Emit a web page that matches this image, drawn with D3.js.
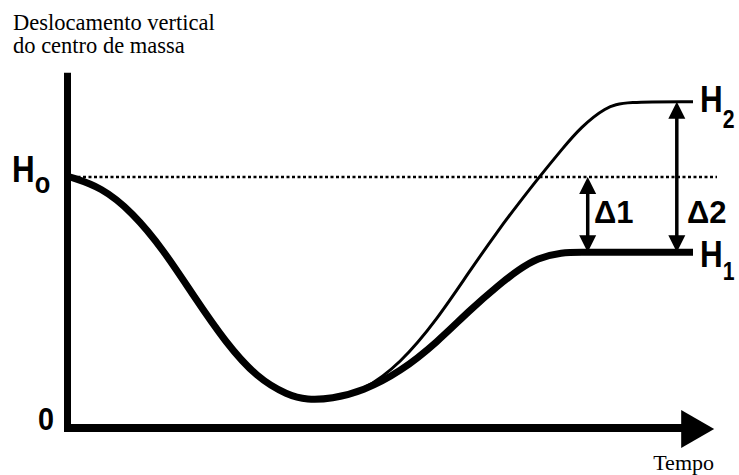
<!DOCTYPE html>
<html><head><meta charset="utf-8">
<script src="https://cdn.jsdelivr.net/npm/d3@7"></script>
<style>html,body{margin:0;padding:0;background:#fff;}svg{display:block;}</style>
</head><body>
<script>
// ---- data ----
const time      = [0, 5, 10, 15, 20, 25, 30, 35, 38, 42, 47, 53, 59, 64, 69, 72, 75, 79, 82, 86, 89, 100];
const thickVals = [100, 96, 86, 71, 52, 34, 20, 13, 11.2, 11.6, 14.7, 22.3, 34.3, 46.6, 57.4, 63, 67.7, 70, 70, 70, 70, 70];
const thinVals  = [100, 96, 86, 71, 52, 34, 20, 13, 11.2, 11.6, 14.7, 25.5, 43.5, 62, 79.7, 89.4, 99, 111.2, 119.9, 127.9, 130, 130];
const H0 = 100, H1 = 70, H2 = 130;
const delta1Time = 83.1, delta2Time = 97.4;
const yAxisMax = 141.5, xAxisMax = 103.4;
const titleLines = ["Deslocamento vertical", "do centro de massa"];
const xLabel = "Tempo";

const W = 739, H = 475;
const svg = d3.select("body").append("svg").attr("width", W).attr("height", H);
const x = d3.scaleLinear().domain([0, 100]).range([70, 693]);
const y = d3.scaleLinear().domain([0, 100]).range([428, 177]);

// title
svg.append("text").attr("font-family", "Liberation Serif, Times New Roman, serif").attr("font-size", 22.5)
  .selectAll("tspan").data(titleLines).join("tspan")
  .attr("x", 13).attr("y", (d, i) => 30 + i * 23).text(d => d);

// dotted H0 line
svg.append("line").attr("x1", x(0) + 2).attr("x2", 717).attr("y1", y(H0)).attr("y2", y(H0))
  .attr("stroke", "#000").attr("stroke-width", 2.5).attr("stroke-dasharray", "3,2.5");

const line = d3.line().x(d => x(d[0])).y(d => y(d[1])).curve(d3.curveBasis);
svg.append("path").attr("d", line(time.map((t, i) => [t, thinVals[i]])))
  .attr("fill", "none").attr("stroke", "#000").attr("stroke-width", 3);
svg.append("path").attr("d", line(time.map((t, i) => [t, thickVals[i]])))
  .attr("fill", "none").attr("stroke", "#000").attr("stroke-width", 7);

// axes
const ax = x(0) - 2.5;
svg.append("line").attr("x1", ax).attr("x2", ax).attr("y1", y(yAxisMax)).attr("y2", y(0) + 4)
  .attr("stroke", "#000").attr("stroke-width", 7);
svg.append("line").attr("x1", ax - 3.5).attr("x2", x(xAxisMax) - 30).attr("y1", y(0)).attr("y2", y(0))
  .attr("stroke", "#000").attr("stroke-width", 8);
const tipX = x(xAxisMax);
svg.append("path").attr("d", `M${tipX},${y(0) + 1}L${tipX - 33},${y(0) - 18}L${tipX - 33},${y(0) + 20}Z`).attr("fill", "#000");

svg.append("text").attr("x", 714).attr("y", 470).attr("text-anchor", "end")
  .attr("font-family", "Liberation Serif, Times New Roman, serif").attr("font-size", 22).text(xLabel);

// double arrows
function dblArrow(t, v1, v2) {
  const xx = x(t), ya = y(v1), yb = y(v2);
  const g = svg.append("g");
  g.append("line").attr("x1", xx).attr("x2", xx).attr("y1", ya + 10).attr("y2", yb - 10)
    .attr("stroke", "#000").attr("stroke-width", 3.5);
  g.append("path").attr("d", `M${xx},${ya}L${xx - 8.5},${ya + 17}L${xx + 8.5},${ya + 17}Z`).attr("fill", "#000");
  g.append("path").attr("d", `M${xx},${yb}L${xx - 8.5},${yb - 17}L${xx + 8.5},${yb - 17}Z`).attr("fill", "#000");
}
dblArrow(delta1Time, H0, H1);
dblArrow(delta2Time, H2, H1);

const sans = "Liberation Sans, Arial, sans-serif";
function hLabel(px, baseY, sub, subDy, subSize) {
  const g = svg.append("g").attr("transform", `translate(${px},${baseY}) scale(0.85,1)`);
  const t = g.append("text").attr("font-family", sans).attr("font-weight", "bold").attr("font-size", 37);
  t.append("tspan").text("H");
  t.append("tspan").attr("dy", subDy).attr("font-size", subSize).text(sub);
}
hLabel(12, y(H0) + 5, "o", 11, 30);
hLabel(700, y(H2) + 10, "2", 16, 25);
hLabel(700, y(H1) + 15, "1", 13, 25);

svg.append("g").attr("transform", `translate(38,${y(0) + 2}) scale(0.9,1)`)
  .append("text").attr("font-family", sans).attr("font-weight", "bold").attr("font-size", 32).text("0");
svg.append("text").attr("x", 594).attr("y", 223).attr("font-family", sans).attr("font-weight", "bold")
  .attr("font-size", 31).text("Δ1");
svg.append("text").attr("x", 687).attr("y", 223).attr("font-family", sans).attr("font-weight", "bold")
  .attr("font-size", 31).text("Δ2");
</script>
</body></html>
